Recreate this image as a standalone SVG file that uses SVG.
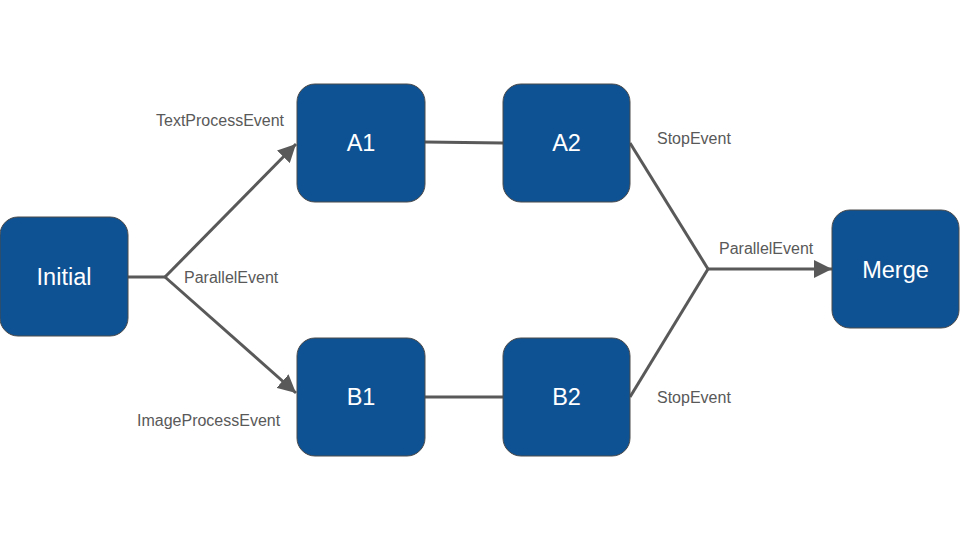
<svg xmlns="http://www.w3.org/2000/svg" width="960" height="540" viewBox="0 0 960 540">
<defs>
<marker id="arr" viewBox="0 0 10 10" refX="10" refY="5" markerWidth="6" markerHeight="6" markerUnits="strokeWidth" orient="auto">
<path d="M0,0 L10,5 L0,10 Z" fill="#595959"/>
</marker>
<style>
.node rect{fill:#0f5293;stroke:#4a4a4a;stroke-width:1}
.node text{fill:#ffffff;font-family:"Liberation Sans",Arial,sans-serif;font-size:23.5px;text-anchor:middle;dominant-baseline:central}
.conn path{fill:none;stroke:#595959;stroke-width:3}
.lbl{fill:#595959;font-family:"Liberation Sans",Arial,sans-serif;font-size:16px;dominant-baseline:central}
</style>
</defs>
<rect width="960" height="540" fill="#ffffff"/>
<g id="connectors" class="conn">
<path d="M128,277 L165,277"/>
<path d="M165,277 L296,144" marker-end="url(#arr)"/>
<path d="M165,277 L296,393" marker-end="url(#arr)"/>
<path d="M425,142 L503,143"/>
<path d="M425,397 L503,397"/>
<path d="M630,143 L708,269"/>
<path d="M630,397 L708,269"/>
<path d="M708,269 L832,269" marker-end="url(#arr)"/>
</g>
<g id="labels">
<text class="lbl" x="156" y="120">TextProcessEvent</text>
<text class="lbl" x="184" y="277">ParallelEvent</text>
<text class="lbl" x="137" y="420">ImageProcessEvent</text>
<text class="lbl" x="657" y="138">StopEvent</text>
<text class="lbl" x="657" y="397">StopEvent</text>
<text class="lbl" x="719" y="248">ParallelEvent</text>
</g>
<g id="initial" class="node"><rect x="0" y="217" width="128" height="119" rx="18"/><text x="64" y="277">Initial</text></g>
<g id="a1" class="node"><rect x="297" y="84" width="128" height="118" rx="18"/><text x="361" y="143">A1</text></g>
<g id="a2" class="node"><rect x="503" y="84" width="127" height="118" rx="18"/><text x="566.5" y="143">A2</text></g>
<g id="b1" class="node"><rect x="297" y="338" width="128" height="118" rx="18"/><text x="361" y="397">B1</text></g>
<g id="b2" class="node"><rect x="503" y="338" width="127" height="118" rx="18"/><text x="566.5" y="397">B2</text></g>
<g id="merge" class="node"><rect x="832" y="210" width="127" height="118" rx="18"/><text x="895.5" y="270">Merge</text></g>
</svg>
